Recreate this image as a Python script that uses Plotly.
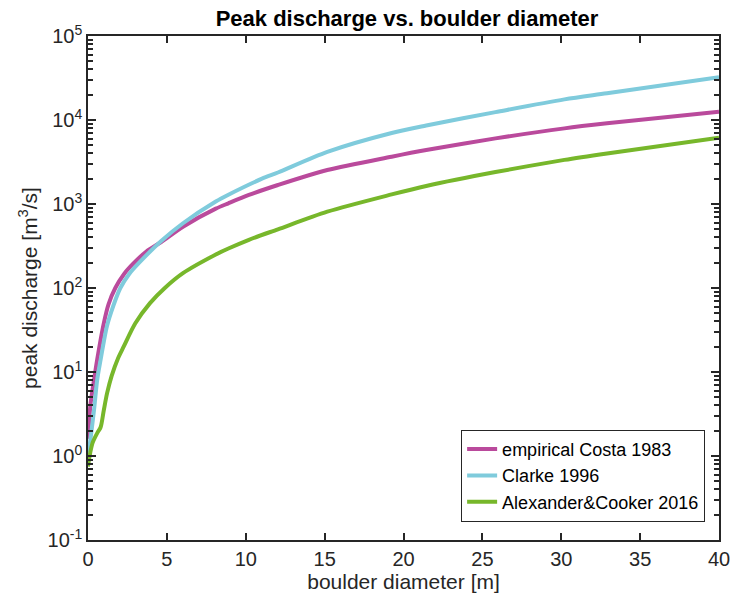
import plotly.graph_objects as go

# boulder diameter [m] and peak discharge [m^3/s]
costa_x = [0, 0.15, 0.38, 0.58, 1.0, 1.3, 1.73, 2.3, 2.88, 3.7, 4.64, 6.02, 8.1, 8.9,
           10.2, 12.04, 15.17, 19.25, 21.44, 25.83, 30.2, 32.9, 40]
costa_y = [1.6, 4.0, 8.0, 14, 38, 64, 100, 148, 196, 272, 353, 537, 880, 1020,
           1280, 1683, 2540, 3660, 4390, 6040, 7950, 9120, 12580]

clarke_x = [0, 0.06, 0.38, 0.58, 0.8, 1.2, 1.6, 2.05, 2.6, 3.2, 4.64, 6.02, 8.1, 8.9,
            11.03, 12.04, 15.17, 19.25, 21.44, 25.83, 30.2, 32.9, 40]
clarke_y = [1.1, 1.2, 3.5, 8.0, 14, 35, 61, 100, 146, 196, 363, 590, 1070, 1290,
            2000, 2370, 4170, 7000, 8600, 12400, 17600, 20800, 32200]

ac_x = [0, 0.1, 0.3, 0.6, 0.8, 1.0, 1.21, 1.5, 1.9, 2.26, 3.0, 3.93, 4.87, 6.02, 8.1,
        8.9, 10.2, 12.04, 15.17, 19.25, 21.44, 25.83, 30.2, 32.9, 40]
ac_y = [0.75, 1.0, 1.45, 1.9, 2.2, 3.5, 5.6, 9.0, 14.5, 20, 38, 66, 100, 150, 250,
        295, 375, 500, 810, 1300, 1640, 2400, 3350, 4000, 6160]

names = ["empirical Costa 1983", "Clarke 1996", "Alexander&Cooker 2016"]
colors = ["#BA4A9C", "#7FCBDC", "#77B72B"]

# y-axis decades (labelled) and minor tick positions (unlabelled)
decades = [-1, 0, 1, 2, 3, 4, 5]
major_vals = [10.0 ** d for d in decades]
minor_vals = [k * 10.0 ** d for d in decades[:-1] for k in range(2, 10)]
all_vals = major_vals + minor_vals
all_text = ["10<sup>%d</sup>" % d for d in decades] + [""] * len(minor_vals)

fig = go.Figure()
yaxes = ["y", "y", "y2"]  # last trace on the overlay axis that draws the long decade ticks
for xs, ys, nm, c, ya in zip([costa_x, clarke_x, ac_x], [costa_y, clarke_y, ac_y],
                             names, colors, yaxes):
    fig.add_trace(go.Scatter(x=xs, y=ys, mode="lines", name=nm, yaxis=ya,
                             line=dict(color=c, width=4, shape="spline", smoothing=0.8)))

axcol = "#262626"
font = "Liberation Sans, Arial, sans-serif"
fig.update_layout(
    width=742, height=606,
    margin=dict(l=88, r=16, t=36, b=66),
    paper_bgcolor="white", plot_bgcolor="white",
    font=dict(family=font, size=20, color=axcol),
    title=dict(text="<b>Peak discharge vs. boulder diameter</b>", x=(88 + 726) / 2 / 742,
               xanchor="center", y=1 - 18 / 606, yanchor="middle",
               font=dict(size=22, color="black")),
    showlegend=True,
    legend=dict(x=0.978, xanchor="right", y=0.036, yanchor="bottom",
                bgcolor="white", bordercolor=axcol, borderwidth=1,
                font=dict(size=18, color="black"), tracegroupgap=0),
    xaxis=dict(range=[0, 40], dtick=5, tick0=0, showgrid=False, zeroline=False,
               showline=True, linecolor=axcol, linewidth=1.5, mirror="ticks",
               ticks="inside", ticklen=7, tickwidth=1.5, tickcolor=axcol,
               title=dict(text="boulder diameter [m]", standoff=6, font=dict(size=21)),
               tickfont=dict(size=20)),
    yaxis=dict(type="log", range=[-1, 5], tickmode="array", tickvals=all_vals,
               ticktext=all_text, showgrid=False, zeroline=False,
               showline=True, linecolor=axcol, linewidth=1.5, mirror="ticks",
               ticks="inside", ticklen=5, tickwidth=1.5, tickcolor=axcol,
               title=dict(text="peak discharge [m<sup>3</sup>/s]", standoff=4, font=dict(size=21)),
               tickfont=dict(size=20)),
    yaxis2=dict(type="log", range=[-1, 5], overlaying="y", side="left", anchor="x",
                tickmode="array", tickvals=major_vals, showticklabels=False,
                showgrid=False, zeroline=False, showline=False, mirror="ticks",
                ticks="inside", ticklen=8, tickwidth=1.5, tickcolor=axcol),
)

fig.write_html("out.html")
